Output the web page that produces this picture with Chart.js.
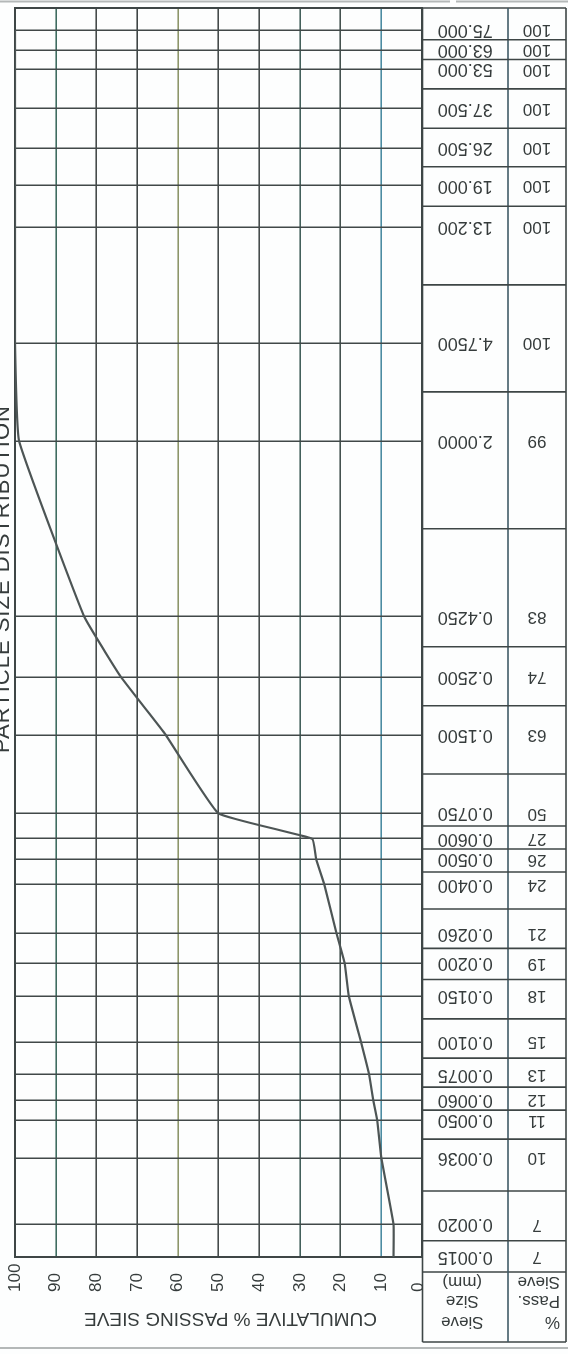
<!DOCTYPE html>
<html>
<head>
<meta charset="utf-8">
<title>Particle Size Distribution</title>
<script src="https://cdn.jsdelivr.net/npm/chart.js@4.4.1/dist/chart.umd.min.js"></script>
<style>
  html, body { margin: 0; padding: 0; background: #ffffff; overflow: hidden; }
  /* the sheet is laid out upright and turned half a revolution on the page */
  #sheet { width: 568px; height: 1354px; transform: rotate(180deg); transform-origin: 50% 50%; }
  canvas { display: block; }
</style>
</head>
<body>
<div id="sheet"><canvas id="psd" width="568" height="1354"></canvas></div>
<script>
// Sieve sizes (mm), finest first, with the printed labels of the sieve column
const sieveSizes = [0.0015, 0.002, 0.0036, 0.005, 0.006, 0.0075, 0.01, 0.015, 0.02, 0.026,
                    0.04, 0.05, 0.06, 0.075, 0.15, 0.25, 0.425, 2.0, 4.75, 13.2,
                    19.0, 26.5, 37.5, 53.0, 63.0, 75.0];
const sieveLabels = ["0.0015", "0.0020", "0.0036", "0.0050", "0.0060", "0.0075", "0.0100", "0.0150", "0.0200", "0.0260",
                     "0.0400", "0.0500", "0.0600", "0.0750", "0.1500", "0.2500", "0.4250", "2.0000", "4.7500", "13.200",
                     "19.000", "26.500", "37.500", "53.000", "63.000", "75.000"];
// Cumulative % passing each sieve
const percentPassing = [7, 7, 10, 11, 12, 13, 15, 18, 19, 21,
                        24, 26, 27, 50, 63, 74, 83, 99, 100, 100,
                        100, 100, 100, 100, 100, 100];
// Percent axis ticks
const percentTicks = [0, 10, 20, 30, 40, 50, 60, 70, 80, 90, 100];

const FONT = '"Liberation Sans", Arial, Helvetica, sans-serif';
const INK = '#363c3c';
const RULE = '#3e4646';

// slightly tinted vertical rules, as printed on the form
const percentRuleColors = {
  0: '#3c4444', 10: '#4c8ca2', 20: '#44524f', 30: '#43605b', 40: '#464c4c',
  50: '#454b4b', 60: '#8d966a', 70: '#3f4545', 80: '#464b4b', 90: '#3f6c60', 100: '#3c4444'
};

function rule(ctx, x1, y1, x2, y2) {
  ctx.beginPath();
  ctx.moveTo(x1, y1);
  ctx.lineTo(x2, y2);
  ctx.stroke();
}

const sheetPlugin = {
  id: 'sheet',
  beforeDraw(chart) {
    const { ctx, width, height } = chart;
    ctx.save();
    ctx.fillStyle = '#fdfefe';
    ctx.fillRect(0, 0, width, height);
    // page edge rules
    ctx.strokeStyle = '#b4b8b8';
    ctx.lineWidth = 2;
    rule(ctx, 0, 6, width, 6);
    rule(ctx, 0, height - 1.5, 112, height - 1.5);
    rule(ctx, 118, height - 1.5, width, height - 1.5);
    ctx.restore();
  },
  beforeDatasetsDraw(chart) {
    const { ctx, chartArea: a } = chart;
    ctx.save();
    ctx.strokeStyle = RULE;
    ctx.lineWidth = 2;
    ctx.strokeRect(a.left, a.top, a.right - a.left, a.bottom - a.top);
    ctx.restore();
  },
  afterDraw(chart) {
    const { ctx, chartArea: a } = chart;
    const ys = chart.scales.y;
    const xs = chart.scales.x;

    // ---- sieve table on the left ----
    const tblL = 2, tblDiv = 60, tblR = a.left - 0.5;
    const headTop = 12, headBot = a.top - 15, tblBot = a.bottom;
    ctx.save();
    ctx.strokeStyle = RULE;
    ctx.lineWidth = 1.6;
    rule(ctx, tblL, headTop, tblL, tblBot);
    rule(ctx, tblR, headTop, tblR, tblBot);
    rule(ctx, tblL, headTop, tblR, headTop);
    rule(ctx, tblL, headBot, tblR, headBot);
    rule(ctx, tblL, tblBot, tblR, tblBot);
    ctx.strokeStyle = '#3f5a66';
    rule(ctx, tblDiv, headTop, tblDiv, tblBot);
    ctx.strokeStyle = RULE;
    for (let i = 0; i < sieveSizes.length - 1; i++) {
      const yy = ys.getPixelForValue(Math.sqrt(sieveSizes[i] * sieveSizes[i + 1]));
      rule(ctx, tblL, yy, tblR, yy);
    }

    ctx.fillStyle = INK;
    ctx.textBaseline = 'middle';
    // header
    ctx.font = '17px ' + FONT;
    ctx.textAlign = 'left';
    ctx.fillText('%', 8, 32);
    ctx.fillText('Pass.', 8, 53);
    ctx.fillText('Sieve', 8, 72);
    ctx.textAlign = 'center';
    const sizeMid = (tblDiv + tblR) / 2 + 3;
    ctx.fillText('Sieve', sizeMid, 32);
    ctx.fillText('Size', sizeMid, 53);
    ctx.fillText('(mm)', sizeMid, 72);

    // rows, each label sitting on its own sieve rule
    for (let i = 0; i < sieveSizes.length; i++) {
      const yy = ys.getPixelForValue(sieveSizes[i]);
      ctx.font = '18px ' + FONT;
      ctx.fillText(sieveLabels[i], sizeMid - 3, yy);
      ctx.font = '17px ' + FONT;
      ctx.fillText(String(percentPassing[i]), (tblL + tblDiv) / 2, yy);
    }
    ctx.restore();

    // ---- percent tick labels, written downwards ----
    ctx.save();
    ctx.fillStyle = INK;
    ctx.font = '17px ' + FONT;
    ctx.textAlign = 'left';
    ctx.textBaseline = 'middle';
    xs.ticks.forEach(t => {
      const px = Math.max(xs.getPixelForValue(t.value), a.left + 4);
      ctx.save();
      ctx.translate(px, 62);
      ctx.rotate(Math.PI / 2);
      ctx.fillText(String(t.value), 0, 0);
      ctx.restore();
    });
    ctx.restore();

    // ---- axis title ----
    ctx.save();
    ctx.fillStyle = INK;
    ctx.font = '19px ' + FONT;
    ctx.textAlign = 'center';
    ctx.textBaseline = 'middle';
    ctx.fillText('CUMULATIVE % PASSING SIEVE', (a.left + a.right) / 2 - 12, 36);
    ctx.restore();

    // ---- sheet title along the right edge, partly off the sheet ----
    ctx.save();
    ctx.fillStyle = INK;
    ctx.font = '22px ' + FONT;
    ctx.letterSpacing = '1px';
    ctx.textAlign = 'left';
    ctx.textBaseline = 'alphabetic';
    ctx.translate(559, 601);
    ctx.rotate(Math.PI / 2);
    ctx.fillText('PARTICLE SIZE DISTRIBUTION', 0, 0);
    ctx.restore();
  }
};

new Chart(document.getElementById('psd'), {
  type: 'line',
  data: {
    datasets: [{
      data: sieveSizes.map((s, i) => ({ x: percentPassing[i], y: s })),
      borderColor: '#4d5555',
      borderWidth: 2.2,
      pointRadius: 0,
      tension: 0.1,
      fill: false
    }]
  },
  options: {
    responsive: false,
    animation: false,
    devicePixelRatio: 1,
    layout: { padding: { left: 146, right: 15, top: 97, bottom: 8 } },
    plugins: {
      legend: { display: false },
      tooltip: { enabled: false },
      title: { display: false }
    },
    scales: {
      x: {
        type: 'linear',
        position: 'top',
        min: 0,
        max: 100,
        afterBuildTicks: sc => { sc.ticks = percentTicks.map(v => ({ value: v })); },
        ticks: { display: false },
        grid: {
          drawTicks: false,
          lineWidth: 1.6,
          color: c => percentRuleColors[c.tick && c.tick.value] || RULE
        },
        border: { display: false }
      },
      y: {
        type: 'logarithmic',
        reverse: true,
        min: 0.0015,
        max: 91,
        afterBuildTicks: sc => { sc.ticks = sieveSizes.map(v => ({ value: v })); },
        ticks: { display: false },
        grid: { drawTicks: false, lineWidth: 1.6, color: '#414848' },
        border: { display: false }
      }
    }
  },
  plugins: [sheetPlugin]
});
</script>
</body>
</html>
